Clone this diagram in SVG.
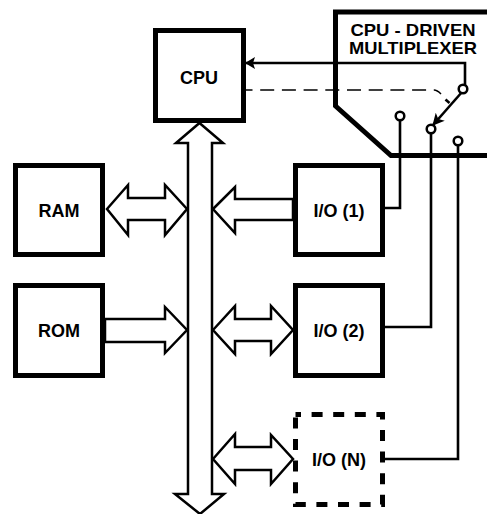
<svg xmlns="http://www.w3.org/2000/svg" width="487" height="514" viewBox="0 0 487 514">
<defs>
<marker id="ah" markerUnits="userSpaceOnUse" markerWidth="14" markerHeight="14" refX="9" refY="6" orient="auto"><path d="M0,0L10,6L0,12L2,6Z" fill="#000"/></marker>
<marker id="al" markerUnits="userSpaceOnUse" markerWidth="14" markerHeight="14" refX="11" refY="6" orient="auto"><path d="M0,0L12,6L0,12L3,6Z" fill="#000"/></marker>
</defs>
<style>
.box{fill:#fff;stroke:#000;stroke-width:5}
.dash{fill:none;stroke:#000;stroke-width:5;stroke-dasharray:11 10.6}
.t{font-family:"Liberation Sans",Arial,sans-serif;font-weight:700;font-size:18px;text-anchor:middle;fill:#000}
.m{font-size:17px}
.w{fill:none;stroke:#000;stroke-width:2.6}
.d{fill:none;stroke:#000;stroke-width:1.500;stroke-dasharray:14 7.7;stroke-dashoffset:7.500}
.b{fill:#fff;stroke:#000;stroke-width:2.5;stroke-linejoin:miter}
.c{fill:#fff;stroke:#000;stroke-width:2.5}
</style>
<rect width="487" height="514" fill="#fff"/>
<g id="connectors">
<path class="w" d="M465,85V63H246" marker-end="url(#ah)"/>
<path class="d" d="M246,90H434Q437,90 441,94"/>
<path class="w" d="M462,92L433,125" marker-end="url(#al)"/>
<path class="w" d="M445.500,99.500L449.500,103"/>
<path class="w" d="M400,120V208H385"/>
<path class="w" d="M431,133V327H385"/>
<path class="w" d="M458,145V459H385"/>
<path class="b" d="M199.500,123L223,143H212V494H224L200,514L175,494H188V143H176Z"/>
<path class="b" d="M107,209L128,185V198H165V185L187,209L165,235V220H128V235Z"/>
<path class="b" d="M213,209L235,187V199H293V220H235V233Z"/>
<path class="b" d="M105,319H165V307L187,330L165,353V342H105Z"/>
<path class="b" d="M213,330L235,306V319H271V306L293,330L271,354V341H235V354Z"/>
<path class="b" d="M213,459L235,434V447H271V435L293,459L271,484V470H235V484Z"/>
</g>
<g id="mux">
<path fill="none" stroke="#000" stroke-width="5" d="M487,12H335.500V106L391,155.500H487"/>
<circle class="c" cx="463" cy="89" r="4.300"/>
<circle class="c" cx="400" cy="116" r="4.300"/>
<circle class="c" cx="431" cy="129" r="4.300"/>
<circle class="c" cx="458" cy="141" r="4.300"/>
<text class="t m" x="413" y="36" textLength="125" lengthAdjust="spacingAndGlyphs">CPU - DRIVEN</text>
<text class="t m" x="413" y="54" textLength="128" lengthAdjust="spacingAndGlyphs">MULTIPLEXER</text>
</g>
<g id="cpu"><rect class="box" x="155.500" y="30.500" width="88" height="90"/><text class="t" x="199" y="84">CPU</text></g>
<g id="ram"><rect class="box" x="15.500" y="165.500" width="87" height="89"/><text class="t" x="59" y="217">RAM</text></g>
<g id="rom"><rect class="box" x="15.500" y="285.500" width="87" height="90"/><text class="t" x="59" y="337">ROM</text></g>
<g id="io1"><rect class="box" x="295.500" y="165.500" width="87" height="89"/><text class="t" x="339" y="217">I/O (1)</text></g>
<g id="io2"><rect class="box" x="295.500" y="285.500" width="87" height="90"/><text class="t" x="339" y="337">I/O (2)</text></g>
<g id="ion"><rect fill="#fff" x="295.500" y="414.500" width="87" height="90"/><rect class="dash" x="295.500" y="414.500" width="87" height="90" stroke-dashoffset="5.500"/><text class="t" x="339" y="466">I/O (N)</text></g>
</svg>
